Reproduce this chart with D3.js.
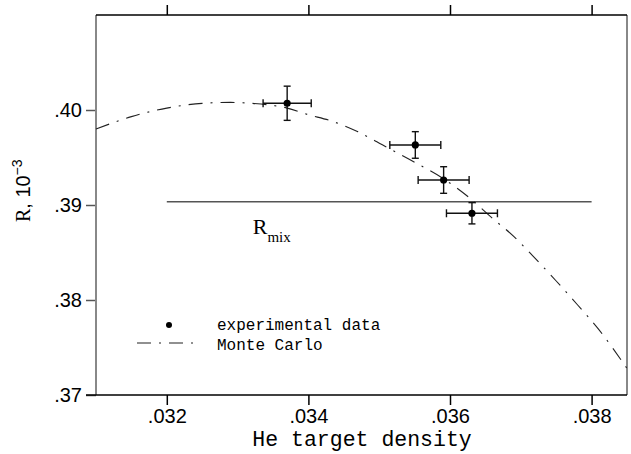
<!DOCTYPE html>
<meta charset="utf-8">
<style>
  body { margin: 0; background: #fff; }
  text { font-family: "Liberation Sans", Arial, sans-serif; }
</style>
<svg id="chart" width="631" height="454"></svg>
<script src="https://d3js.org/d3.v7.min.js"></script>
<script>

// experimental points: density, R (10^-3) and errors
var expX    = [0.03370, 0.03551, 0.03591, 0.03631];
var expR    = [0.40071, 0.39632, 0.39263, 0.38913];
var expXErr = [0.00034, 0.00036, 0.00036, 0.00036];
var expRErr = [0.00180, 0.00140, 0.00140, 0.00112];

// Monte Carlo curve
var mcX = [0.0310, 0.0315, 0.0320, 0.0325, 0.0329, 0.0332, 0.0337, 0.0340, 0.0343, 0.0347, 0.0351,
           0.0355, 0.0359, 0.0363, 0.0366, 0.0369, 0.0372, 0.0375, 0.0378, 0.0381, 0.0385];
var mcR = [0.3980, 0.3993, 0.4002, 0.4007, 0.4008, 0.4007, 0.4002, 0.3995, 0.3989, 0.3977, 0.3961,
           0.3945, 0.3928, 0.3906, 0.3886, 0.3867, 0.3844, 0.3820, 0.3795, 0.3769, 0.3728];

// R_mix level
var rMix = 0.39035, rMixFrom = 0.032, rMixTo = 0.038;

var xTicks = [0.032, 0.034, 0.036, 0.038];
var yTicks = [0.37, 0.38, 0.39, 0.40];

var svg = d3.select("#chart"),
    margin = {top: 15, right: 4, bottom: 59, left: 96},
    width = +svg.attr("width") - margin.left - margin.right,
    height = +svg.attr("height") - margin.top - margin.bottom,
    g = svg.append("g").attr("transform", "translate(" + margin.left + "," + margin.top + ")");

var x = d3.scaleLinear().domain([0.031, 0.0385]).range([0, width]);
var y = d3.scaleLinear().domain([0.37, 0.41]).range([height, 0]);

var noZero = function(f) { return function(d) { return d3.format(f)(d).replace(/^0/, ""); }; };

// bottom axis
var gx = g.append("g")
    .attr("transform", "translate(0," + height + ")")
    .call(d3.axisBottom(x).tickValues(xTicks).tickSize(10).tickPadding(4).tickFormat(noZero(".3f")));
gx.select(".domain").remove();
gx.selectAll("line").attr("stroke", "#000").attr("stroke-width", 1.5);
gx.selectAll("text").attr("font-size", 20).attr("fill", "#000");

// top axis, ticks only
var gt = g.append("g")
    .call(d3.axisTop(x).tickValues(xTicks).tickSize(10).tickFormat(""));
gt.select(".domain").remove();
gt.selectAll("line").attr("stroke", "#000").attr("stroke-width", 1.5);

// left axis
var gy = g.append("g")
    .call(d3.axisLeft(y).tickValues(yTicks).tickSize(10).tickPadding(4).tickFormat(noZero(".2f")));
gy.select(".domain").remove();
gy.selectAll("line").attr("stroke", "#555").attr("stroke-width", 1.5);
gy.selectAll("text").attr("font-size", 20).attr("fill", "#000");

// frame: grey sides, black top and bottom
g.append("line").attr("x1", 0).attr("x2", 0).attr("y1", 0).attr("y2", height)
    .attr("stroke", "#888").attr("stroke-width", 2);
g.append("line").attr("x1", width).attr("x2", width).attr("y1", 0).attr("y2", height)
    .attr("stroke", "#888").attr("stroke-width", 2);
g.append("line").attr("x1", 0).attr("x2", width).attr("y1", 0).attr("y2", 0)
    .attr("stroke", "#000").attr("stroke-width", 1.5);
g.append("line").attr("x1", -10).attr("x2", width).attr("y1", height).attr("y2", height)
    .attr("stroke", "#000").attr("stroke-width", 1.5);

// axis titles
svg.append("text")
    .attr("x", margin.left + x(0.0348) - 3)
    .attr("y", 446)
    .attr("text-anchor", "middle")
    .style("font-family", "'Liberation Mono', monospace")
    .attr("font-size", 21.5)
    .text("He target density");

var yl = svg.append("text")
    .attr("transform", "translate(30," + (margin.top + y(0.3915)) + ") rotate(-90)")
    .attr("text-anchor", "middle")
    .attr("font-size", 20);
yl.append("tspan").style("font-family", "'Liberation Serif', serif").text("R");
yl.append("tspan").text(", 10");
yl.append("tspan").attr("dy", -8).attr("font-size", 14).text("\u22123");

// R_mix line and label
g.append("line")
    .attr("x1", x(rMixFrom)).attr("x2", x(rMixTo))
    .attr("y1", y(rMix)).attr("y2", y(rMix))
    .attr("stroke", "#555").attr("stroke-width", 1.5);

var rl = g.append("text")
    .attr("x", x(0.03368) - 33)
    .attr("y", y(rMix) + 32)
    .style("font-family", "'Liberation Serif', serif")
    .attr("font-size", 22);
rl.append("tspan").text("R");
rl.append("tspan").attr("dy", 8).attr("font-size", 15).text("mix");

// Monte Carlo curve
var mcData = mcX.map(function(d, i) { return {x: d, r: mcR[i]}; });
var line = d3.line()
    .curve(d3.curveMonotoneX)
    .x(function(d) { return x(d.x); })
    .y(function(d) { return y(d.r); });

g.append("path")
    .datum(mcData)
    .attr("fill", "none")
    .attr("stroke", "#222")
    .attr("stroke-width", 1.1)
    .attr("stroke-dasharray", "14,8,2,8")
    .attr("d", line);

// experimental points with error bars
var expData = expX.map(function(d, i) {
  return {x: d, r: expR[i], dx: expXErr[i], dr: expRErr[i]};
});

var pts = g.selectAll(".pt")
  .data(expData)
  .enter().append("g")
    .attr("class", "pt");

pts.append("line")
    .attr("x1", function(d) { return x(d.x - d.dx); })
    .attr("x2", function(d) { return x(d.x + d.dx); })
    .attr("y1", function(d) { return y(d.r); })
    .attr("y2", function(d) { return y(d.r); });
pts.append("line")
    .attr("x1", function(d) { return x(d.x); })
    .attr("x2", function(d) { return x(d.x); })
    .attr("y1", function(d) { return y(d.r - d.dr); })
    .attr("y2", function(d) { return y(d.r + d.dr); });
// caps
pts.selectAll(".hcap")
  .data(function(d) { return [d.x - d.dx, d.x + d.dx].map(function(v) { return {v: v, r: d.r}; }); })
  .enter().append("line")
    .attr("x1", function(c) { return x(c.v); })
    .attr("x2", function(c) { return x(c.v); })
    .attr("y1", function(c) { return y(c.r) - 4; })
    .attr("y2", function(c) { return y(c.r) + 4; });
pts.selectAll(".vcap")
  .data(function(d) { return [d.r - d.dr, d.r + d.dr].map(function(v) { return {x: d.x, v: v}; }); })
  .enter().append("line")
    .attr("x1", function(c) { return x(c.x) - 3.5; })
    .attr("x2", function(c) { return x(c.x) + 3.5; })
    .attr("y1", function(c) { return y(c.v); })
    .attr("y2", function(c) { return y(c.v); });
pts.selectAll("line").attr("stroke", "#111").attr("stroke-width", 1.4);
pts.append("circle")
    .attr("cx", function(d) { return x(d.x); })
    .attr("cy", function(d) { return y(d.r); })
    .attr("r", 3.6)
    .attr("fill", "#000");

// legend
var lg = svg.append("g");
lg.append("circle").attr("cx", 169).attr("cy", 325).attr("r", 3).attr("fill", "#000");
lg.append("line").attr("x1", 137).attr("x2", 197).attr("y1", 343).attr("y2", 343)
    .attr("stroke", "#222").attr("stroke-width", 1.1).attr("stroke-dasharray", "14,8,2,8");
lg.selectAll("text")
  .data(["experimental data", "Monte Carlo"])
  .enter().append("text")
    .attr("x", 217)
    .attr("y", function(d, i) { return 330 + i * 20; })
    .style("font-family", "'Liberation Mono', monospace")
    .attr("font-size", 16)
    .text(function(d) { return d; });

</script>
